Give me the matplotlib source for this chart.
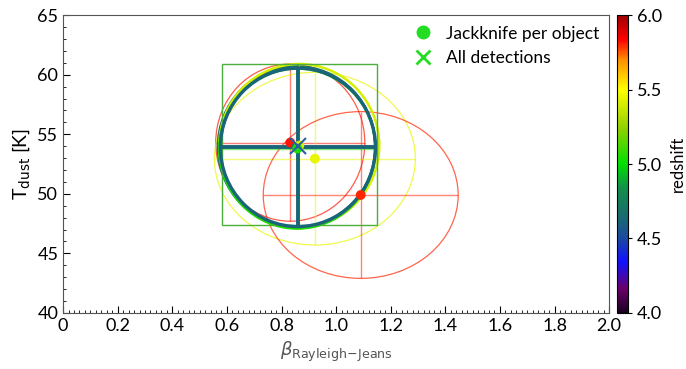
import numpy as np
import matplotlib
matplotlib.use("Agg")
import matplotlib.pyplot as plt
from matplotlib.colors import LinearSegmentedColormap, Normalize
from matplotlib.patches import Ellipse, Rectangle
from matplotlib.lines import Line2D
from matplotlib.ticker import MultipleLocator, FuncFormatter

plt.rcParams['font.family'] = ['Lato', 'DejaVu Sans']
plt.rcParams['mathtext.fontset'] = 'dejavusans'

# jackknife per object (beta, Tdust, errors, redshift)
jk_beta = [0.832, 0.922, 1.090, 0.860, 0.855, 0.865, 0.858]
jk_temp = [54.3, 52.95, 49.9, 53.9, 53.95, 54.05, 53.8]
jk_beta_err = [0.273, 0.368, 0.357, 0.284, 0.288, 0.293, 0.286]
jk_temp_err = [6.6, 7.25, 7.0, 6.7, 6.75, 6.85, 6.72]
jk_z = [5.82, 5.45, 5.80, 4.62, 4.70, 5.40, 5.05]

# all detections
all_beta = 0.860
all_temp = 54.0
all_beta_err = 0.284
all_temp_err = 6.65
all_z = 4.62
# bounding box drawn around the all-detection fit
box_beta = [0.582, 1.150]
box_temp = [47.35, 60.9]

colours = [(0.0, '#1a0020'), (0.08, '#6a006a'), (0.17, '#1010ff'),
           (0.25, '#1a4aa0'), (0.32, '#1a6a72'), (0.42, '#12904a'),
           (0.5, '#00e000'), (0.62, '#90d000'), (0.75, '#ffff00'),
           (0.85, '#ff9000'), (0.92, '#ff0000'), (1.0, '#a00000')]
cmap = LinearSegmentedColormap.from_list('zmap', colours)
norm = Normalize(vmin=4.0, vmax=6.0)

fig = plt.figure(figsize=(6.86, 3.69), dpi=100)
ax = fig.add_axes([0.092, 0.152, 0.796, 0.807])
cax = fig.add_axes([0.899, 0.152, 0.016, 0.807])

for i in range(len(jk_beta)):
    c = cmap(norm(jk_z[i]))
    ax.errorbar(jk_beta[i], jk_temp[i], xerr=jk_beta_err[i], yerr=jk_temp_err[i],
                fmt='none', ecolor=c, elinewidth=1.0, alpha=0.55, zorder=2)
    ax.add_patch(Ellipse((jk_beta[i], jk_temp[i]), 2 * jk_beta_err[i], 2 * jk_temp_err[i],
                         fill=False, edgecolor=c, lw=1.8 if i > 2 else 0.9,
                         alpha=1.0 if i > 2 else 0.7, zorder=2))

ac = cmap(norm(all_z))
ax.add_patch(Rectangle((box_beta[0], box_temp[0]), box_beta[1] - box_beta[0],
                       box_temp[1] - box_temp[0], fill=False, edgecolor='#4caf3a', lw=1.0, zorder=2))
ax.add_patch(Ellipse((all_beta, all_temp - 0.1), 2 * all_beta_err, 2 * all_temp_err,
                     fill=False, edgecolor=ac, lw=2.4, zorder=3))
ax.errorbar(all_beta, all_temp - 0.1, xerr=all_beta_err, yerr=all_temp_err,
            fmt='none', ecolor=ac, elinewidth=2.8, zorder=3)

ax.scatter(jk_beta, jk_temp, c=jk_z, cmap=cmap, norm=norm, s=50, zorder=4, edgecolors='none')
ax.plot(all_beta, all_temp, marker='x', ms=11, mew=1.5, color='#2a5ea8', ls='none', zorder=5)

ax.set_xlim(0, 2.0)
ax.set_ylim(40, 65)
ax.xaxis.set_major_locator(MultipleLocator(0.2))
ax.xaxis.set_minor_locator(MultipleLocator(0.02))
ax.yaxis.set_major_locator(MultipleLocator(5))
ax.yaxis.set_minor_locator(MultipleLocator(1))
ax.xaxis.set_major_formatter(FuncFormatter(lambda v, p: '0' if abs(v) < 1e-9 else '%.1f' % v))
ax.tick_params(which='both', direction='in', top=False, right=False, labelsize=13)
ax.tick_params(which='major', length=5)
ax.tick_params(which='minor', length=2.5)
ax.set_xlabel(r'$\beta_{\rm Rayleigh\!-\!Jeans}$', fontsize=13, color='#555555')
ax.set_ylabel(r'T$_{\rm dust}$ [K]', fontsize=14)
for s in ax.spines.values():
    s.set_color('#555555')

handles = [Line2D([], [], marker='o', color='#22dd22', ls='none', ms=9),
           Line2D([], [], marker='x', color='#22dd22', ls='none', ms=10, mew=2)]
ax.legend(handles, ['Jackknife per object', 'All detections'], loc='upper right',
          frameon=False, fontsize=12.5, handletextpad=0.3, borderaxespad=0.2)

sm = plt.cm.ScalarMappable(cmap=cmap, norm=norm)
cb = fig.colorbar(sm, cax=cax)
cb.set_ticks([4.0, 4.5, 5.0, 5.5, 6.0])
cb.ax.tick_params(labelsize=13, length=3)
# label placed by hand so it stays inside the figure
fig.text(0.988, 0.555, 'redshift', rotation=90, ha='center', va='center', fontsize=12)

fig.savefig('out.png', dpi=100)
